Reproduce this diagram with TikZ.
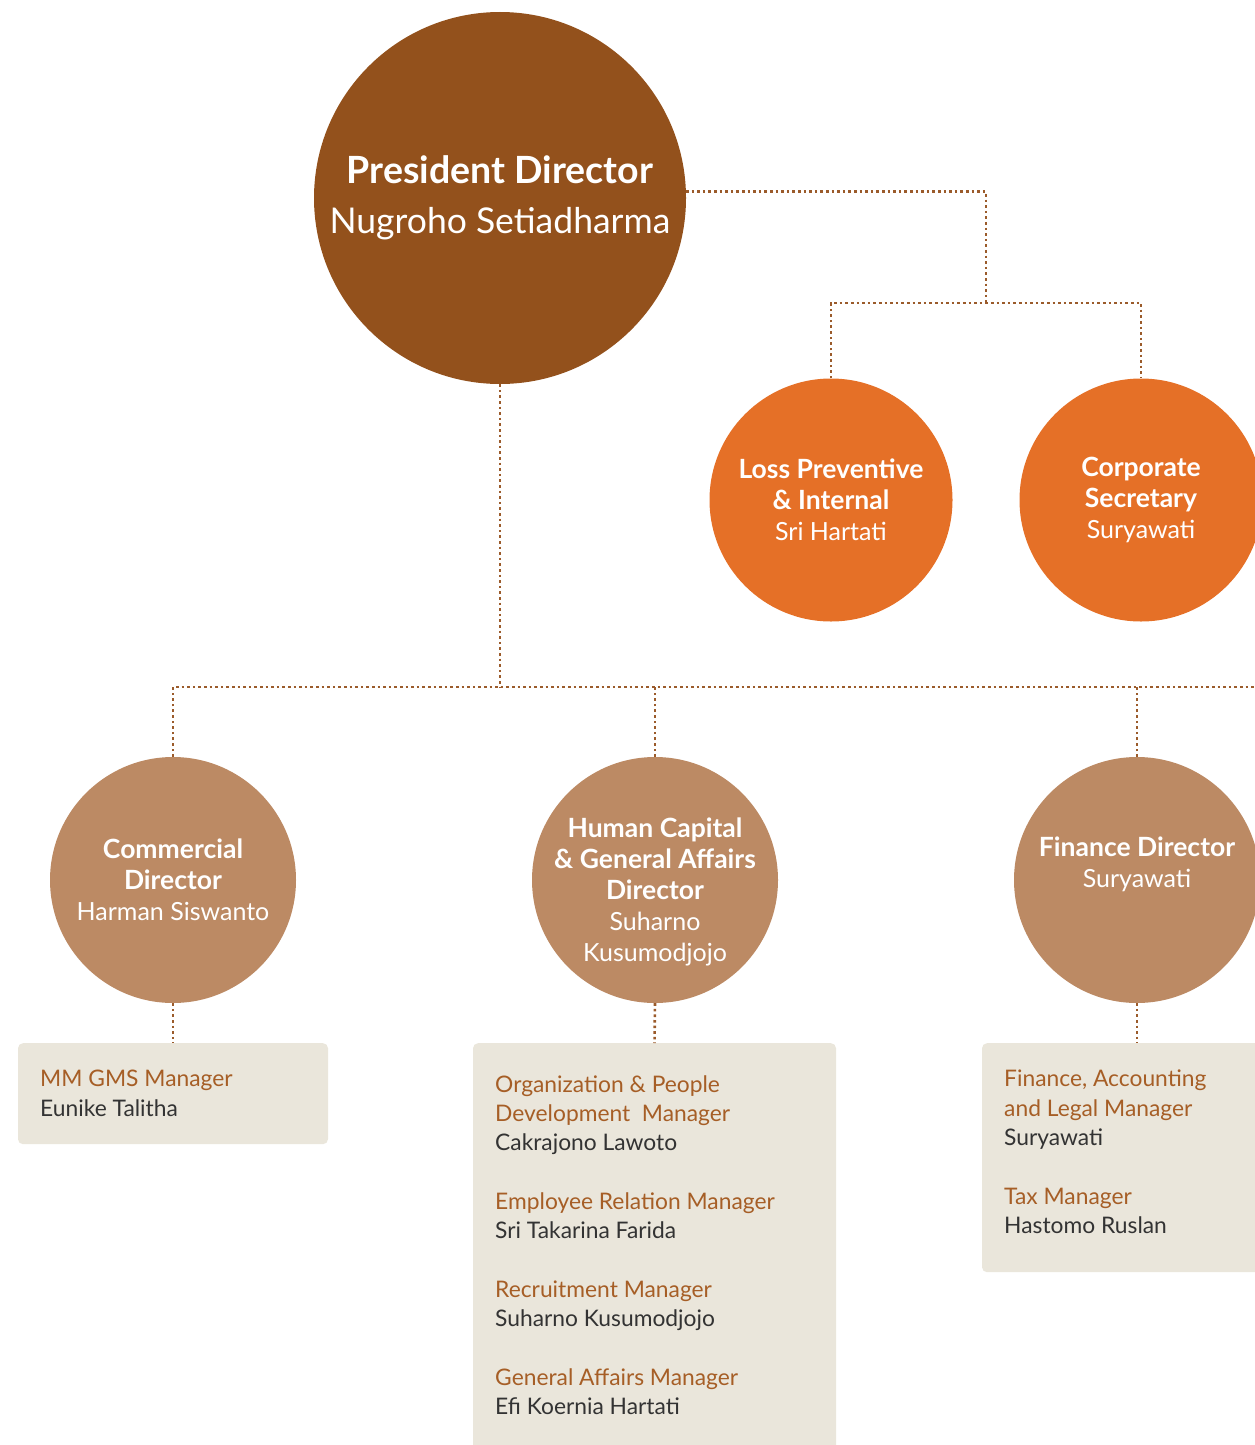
\documentclass[tikz,border=0pt]{standalone}
\usepackage{fontspec}
\setmainfont{Lato}
\usepackage{tikz}
\definecolor{presbrown}{HTML}{93511C}
\definecolor{lossorange}{HTML}{E57027}
\definecolor{dirtan}{HTML}{BC8A64}
\definecolor{boxbeige}{HTML}{EAE6DB}
\definecolor{linebrown}{HTML}{9B5B2B}
\definecolor{titlebrown}{HTML}{A65E26}
\definecolor{namegray}{HTML}{333333}
\newcommand\mgr[1]{\textcolor{titlebrown}{#1}}
\newcommand\hd[1]{{\fontsize{26.5}{31}\selectfont\textbf{#1}}}

\begin{document}
\begin{tikzpicture}[x=1pt,y=-1pt]
		\tikzset{pres/.style={shape = circle, fill = presbrown, text = white, minimum size = 372pt, inner sep = 0pt, align = center, font = \fontsize{35.5}{50}\selectfont}}
		\tikzset{unit/.style={shape = circle, fill = lossorange, text = white, minimum size = 243pt, inner sep = 0pt, align = center, font = \fontsize{25}{31}\selectfont}}
		\tikzset{dir/.style={unit, fill = dirtan, minimum size = 246pt}}
		\tikzset{dirtext/.style={inner sep = 0pt, align = center, text = white, font = \fontsize{25}{31}\selectfont}}
		\tikzset{mgrbox/.style={fill = boxbeige, rounded corners = 5pt, inner sep = 0pt, anchor = north}}
		\tikzset{mgrtext/.style={align = left, inner sep = 0pt, anchor = north west, text = namegray, font = \fontsize{22.8}{29.3}\selectfont}}
		\tikzset{link/.style={draw = linebrown, line width = 2.6pt, dash pattern = on 2.6pt off 3pt}}
		\useasboundingbox (0, 0) rectangle (1255, 1445);
		\clip (0, 0) rectangle (1255, 1445);
		%circles
		\node[pres] (pres) at (500, 198) {{\fontsize{37.5}{50}\selectfont\textbf{President Director}}\\Nugroho Setiadharma};
		\node[unit] (loss) at (831, 500) {\hd{Loss Preventive}\\\hd{\& Internal}\\Sri Hartati};
		\node[unit] (corp) at (1141, 500) {\hd{Corporate}\\\hd{Secretary}\\Suryawati};
		\node[dir] (comm) at (173, 880) {\hd{Commercial}\\\hd{Director}\\Harman Siswanto};
		\node[dir] (hc) at (655, 880) {};
		\node[dir] (fin) at (1137, 880) {};
		\node[dirtext] (hctext) at ([yshift=-12pt]hc.center) {\hd{Human Capital}\\\hd{\& General Affairs}\\\hd{Director}\\Suharno\\Kusumodjojo};
		\node[dirtext] (fintext) at ([yshift=16pt]fin.center) {\hd{Finance Director}\\Suryawati};
		%boxes
		\node[mgrbox, minimum width = 310pt, minimum height = 101pt] (commbox) at (173, 1043) {};
		\node[mgrbox, minimum width = 363pt, minimum height = 440pt] (hcbox) at (654.5, 1043) {};
		\node[mgrbox, minimum width = 300pt, minimum height = 229pt] (finbox) at (1132, 1043) {};
		\node[mgrtext] (commlist) at (40, 1070) {\mgr{MM GMS Manager}\\Eunike Talitha};
		\node[mgrtext] (hclist) at (495, 1075) {\mgr{Organization \& People}\\\mgr{Development~ Manager}\\Cakrajono Lawoto\\[29.3pt]
			\mgr{Employee Relation Manager}\\Sri Takarina Farida\\[29.3pt]
			\mgr{Recruitment Manager}\\Suharno Kusumodjojo\\[29.3pt]
			\mgr{General Affairs Manager}\\Efi Koernia Hartati};
		\node[mgrtext] (finlist) at (1004, 1070) {\mgr{Finance, Accounting}\\\mgr{and Legal Manager}\\Suryawati\\[29.3pt]
			\mgr{Tax Manager}\\Hastomo Ruslan};
		%connectors
		\coordinate (staffsplit) at (986, 303);
		\coordinate (dirsplit) at (500, 687);
		\coordinate (railend) at (1270, 687);
		\draw[link] (pres.2) -| (staffsplit);
		\draw[link] (loss.north) |- (staffsplit) -| (corp.north);
		\draw[link] (pres.south) -- (dirsplit);
		\draw[link] (comm.north) |- (railend);
		\draw[link] (hc.north) -- (hc.north |- dirsplit);
		\draw[link] (fin.north) -- (fin.north |- dirsplit);
		\draw[link] (comm.south) -- (commbox.north);
		\draw[link] (hc.south) -- (hcbox.north);
		\draw[link] (fin.south) -- (fin.south |- finbox.north);
\end{tikzpicture}
\end{document}
